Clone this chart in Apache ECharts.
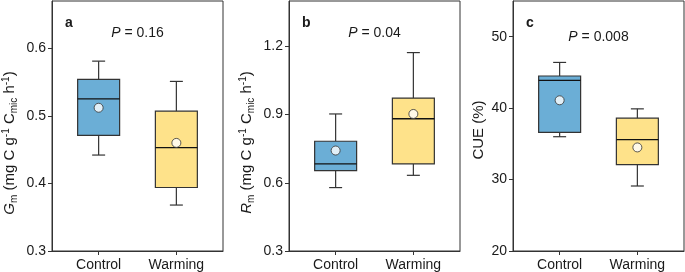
<!DOCTYPE html>
<html>
<head>
<meta charset="utf-8">
<script src="https://cdn.jsdelivr.net/npm/echarts@6/dist/echarts.min.js"></script>
<style>
  html, body { margin: 0; padding: 0; background: #fff; }
  #chart { width: 685px; height: 272px; }
</style>
</head>
<body>
<div id="chart"></div>
<script>
// groups on the x axis
const groups = ['Control', 'Warming'];

// box stats: [min, q1, median, q3, max] per group
const gmStats = [[0.442, 0.471, 0.525, 0.554, 0.581], [0.368, 0.394, 0.453, 0.507, 0.551]];
const gmMeans = [0.512, 0.460];
const rmStats = [[0.579, 0.654, 0.683, 0.783, 0.903], [0.633, 0.683, 0.882, 0.973, 1.173]];
const rmMeans = [0.742, 0.903];
const cueStats = [[36.0, 36.6, 43.9, 44.5, 46.4], [29.1, 32.1, 35.6, 38.6, 39.9]];
const cueMeans = [41.1, 34.5];

// y tick labels per panel
const gmTicks = [0.3, 0.4, 0.5, 0.6];
const rmTicks = [0.3, 0.6, 0.9, 1.2];
const cueTicks = [20, 30, 40, 50];

const pValues = ['0.16', '0.04', '0.008'];
const panelLetters = ['a', 'b', 'c'];

const FONT = 'Liberation Sans, Arial, sans-serif';
const TXT = '#1a1a1a';
const LINE = '#333';
const fills = ['#6baed6', '#fee28a'];

const panels = [
  { stats: gmStats, means: gmMeans, ticks: gmTicks, min: 0.3, max: 0.67, left: 52,
    name: '{it|G}{sub|m} (mg C g{sup|-1} C{sub|mic} h{sup|-1})', nameGap: 33, shift: 34, pY: 33 },
  { stats: rmStats, means: rmMeans, ticks: rmTicks, min: 0.3, max: 1.4, left: 289,
    name: '{it|R}{sub|m} (mg C g{sup|-1} C{sub|mic} h{sup|-1})', nameGap: 33, shift: 33, pY: 33 },
  { stats: cueStats, means: cueMeans, ticks: cueTicks, min: 20, max: 55, left: 513,
    name: 'CUE (%)', nameGap: 24, shift: 8, pY: 37 }
];

const grids = [], xAxes = [], yAxes = [], series = [], graphics = [];

panels.forEach((p, k) => {
  grids.push({
    left: p.left, top: 1, width: 171, height: 250,
    show: true, borderColor: LINE, borderWidth: 1, backgroundColor: 'transparent'
  });
  xAxes.push({
    type: 'value', gridIndex: k, min: -0.6, max: 1.6,
    axisLine: { onZero: false, lineStyle: { color: LINE } },
    axisTick: { customValues: [0, 1], length: 4, lineStyle: { color: LINE } },
    axisLabel: {
      customValues: [0, 1], margin: 7, color: TXT, fontSize: 14, fontFamily: FONT,
      formatter: v => groups[Math.round(v)]
    },
    splitLine: { show: false }
  });
  yAxes.push({
    type: 'value', gridIndex: k, min: p.min, max: p.max,
    name: p.name, nameLocation: 'middle', nameGap: p.nameGap,
    nameTextStyle: {
      color: TXT, fontSize: 15, fontFamily: FONT, lineHeight: 18,
      padding: [0, p.shift, 0, 0],
      rich: {
        it: { fontStyle: 'italic', fontSize: 15, fontFamily: FONT, color: TXT },
        sub: { fontSize: 10, fontFamily: FONT, color: TXT, verticalAlign: 'bottom' },
        sup: { fontSize: 10, fontFamily: FONT, color: TXT, verticalAlign: 'top' }
      }
    },
    axisLine: { show: true, onZero: false, lineStyle: { color: LINE } },
    axisTick: { show: true, customValues: p.ticks, length: 4, lineStyle: { color: LINE } },
    axisLabel: { customValues: p.ticks, margin: 6, color: TXT, fontSize: 14, fontFamily: FONT },
    splitLine: { show: false }
  });

  series.push({
    type: 'custom', xAxisIndex: k, yAxisIndex: k,
    data: p.stats.map((s, i) => [i].concat(s)),
    encode: { x: 0, y: [1, 2, 3, 4, 5] },
    renderItem: (params, api) => {
      const i = api.value(0);
      const half = api.size([0.54, 0])[0] / 2;
      const cap = api.size([0.167, 0])[0] / 2;
      const pMin = api.coord([i, api.value(1)]);
      const pQ1 = api.coord([i, api.value(2)]);
      const pMed = api.coord([i, api.value(3)]);
      const pQ3 = api.coord([i, api.value(4)]);
      const pMax = api.coord([i, api.value(5)]);
      const x = pMin[0];
      const ls = { stroke: LINE, lineWidth: 1.2 };
      return {
        type: 'group',
        children: [
          { type: 'line', shape: { x1: x, y1: pQ3[1], x2: x, y2: pMax[1] }, style: ls },
          { type: 'line', shape: { x1: x - cap, y1: pMax[1], x2: x + cap, y2: pMax[1] }, style: ls },
          { type: 'line', shape: { x1: x, y1: pQ1[1], x2: x, y2: pMin[1] }, style: ls },
          { type: 'line', shape: { x1: x - cap, y1: pMin[1], x2: x + cap, y2: pMin[1] }, style: ls },
          { type: 'rect', shape: { x: x - half, y: pQ3[1], width: half * 2, height: pQ1[1] - pQ3[1] },
            style: { fill: fills[i], stroke: LINE, lineWidth: 1.2 } },
          { type: 'line', shape: { x1: x - half, y1: pMed[1], x2: x + half, y2: pMed[1] },
            style: { stroke: '#111', lineWidth: 1.3 } }
        ]
      };
    }
  });
  series.push({
    type: 'scatter', xAxisIndex: k, yAxisIndex: k,
    data: p.means.map((m, i) => [i, m]),
    symbol: 'circle', symbolSize: 9,
    itemStyle: { color: '#fff', borderColor: LINE, borderWidth: 1 },
    z: 5
  });

  graphics.push({
    type: 'text', x: p.left + 13, y: 23,
    style: { text: panelLetters[k], font: 'bold 14px ' + FONT, fill: TXT, verticalAlign: 'middle' }
  });
  graphics.push({
    type: 'text', x: p.left + 85.5, y: p.pY,
    style: {
      text: '{i|P} = ' + pValues[k], fontSize: 14, fontFamily: FONT, fill: TXT,
      align: 'center', verticalAlign: 'middle',
      rich: { i: { fontStyle: 'italic', fontSize: 14, fontFamily: FONT, fill: TXT } }
    }
  });
});

const myChart = echarts.init(document.getElementById('chart'));
myChart.setOption({
  animation: false,
  grid: grids,
  xAxis: xAxes,
  yAxis: yAxes,
  series: series,
  graphic: graphics
});
</script>
</body>
</html>
